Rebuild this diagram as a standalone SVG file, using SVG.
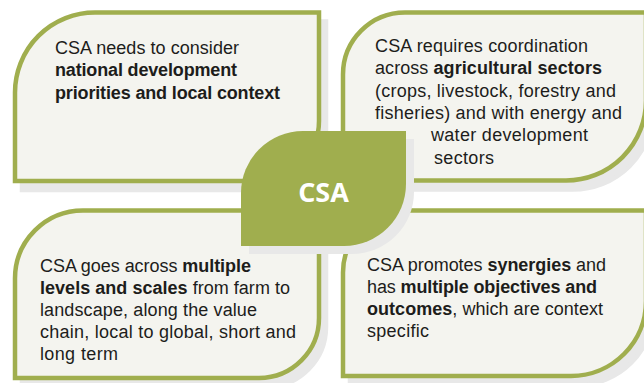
<svg xmlns="http://www.w3.org/2000/svg" xmlns:xlink="http://www.w3.org/1999/xlink" width="644" height="383" viewBox="0 0 644 383">
<style>
.box{fill:#f4f4ef;stroke:#a0ae4e;stroke-width:4.5}
.shadow{fill:#e8e8e8;stroke:#e8e8e8;stroke-width:4.5}
.leaf{fill:#a0ae4e}
.t{font-family:"Liberation Sans",Arial,sans-serif;font-size:18px;fill:#1d1d1b}
.b{font-weight:bold}
.csa{font-family:"Open Sans","Liberation Sans",sans-serif;font-weight:700;font-size:27px;fill:#ffffff;text-anchor:middle}
</style>
<defs>
<path id="p-tl" d="M15,92.5 A80,80 0 0 1 95,12.5 L319,12.5 L319,121 A60,60 0 0 1 259,181 L15,181 Z"/>
<path id="p-tr" d="M343,74.5 A62,62 0 0 1 405,12.5 L646,12.5 L646,100.5 A80,80 0 0 1 566,180.5 L343,180.5 Z"/>
<path id="p-bl" d="M15,278.5 A68,68 0 0 1 83,210.5 L319,210.5 L319,318 A60,60 0 0 1 259,378 L15,378 Z"/>
<path id="p-br" d="M343,272.5 A62,62 0 0 1 405,210.5 L646,210.5 L646,301 A75,75 0 0 1 571,376 L343,376 Z"/>
<path id="p-csa" d="M241,193 A62,62 0 0 1 303,131 L406,131 L406,184 A62,62 0 0 1 344,246 L241,246 Z"/>
</defs>
<g id="shadows">
<use xlink:href="#p-tl" class="shadow" transform="translate(7,9)"/>
<use xlink:href="#p-tr" class="shadow" transform="translate(7,9)"/>
<use xlink:href="#p-bl" class="shadow" transform="translate(7,9)"/>
<use xlink:href="#p-br" class="shadow" transform="translate(7,9)"/>
</g>
<g id="node-tl">
<use xlink:href="#p-tl" class="box"/>
<text class="t" x="55" y="54" textLength="184">CSA needs to consider</text>
<text class="t b" x="55" y="76.3" textLength="182">national development</text>
<text class="t b" x="55" y="98.6" textLength="225">priorities and local context</text>
</g>
<g id="node-tr">
<use xlink:href="#p-tr" class="box"/>
<text class="t" x="375" y="52" textLength="213">CSA requires coordination</text>
<text class="t" x="375" y="74.3" textLength="227">across <tspan class="b">agricultural sectors</tspan></text>
<text class="t" x="375" y="96.6" textLength="241">(crops, livestock, forestry and</text>
<text class="t" x="375" y="119" textLength="247">fisheries) and with energy and</text>
<text class="t" x="431" y="141.3" textLength="157">water development</text>
<text class="t" x="434" y="163.6" textLength="60">sectors</text>
</g>
<g id="node-bl">
<use xlink:href="#p-bl" class="box"/>
<text class="t" x="40" y="272" textLength="211">CSA goes across <tspan class="b">multiple</tspan></text>
<text class="t" x="40" y="294" textLength="250"><tspan class="b">levels and scales</tspan> from farm to</text>
<text class="t" x="40" y="316" textLength="217">landscape, along the value</text>
<text class="t" x="40" y="338" textLength="256">chain, local to global, short and</text>
<text class="t" x="40" y="360" textLength="78">long term</text>
</g>
<g id="node-br">
<use xlink:href="#p-br" class="box"/>
<text class="t" x="367" y="271" textLength="239">CSA promotes <tspan class="b">synergies</tspan> and</text>
<text class="t" x="367" y="293" textLength="230">has <tspan class="b">multiple objectives and</tspan></text>
<text class="t" x="367" y="315" textLength="236"><tspan class="b">outcomes</tspan>, which are context</text>
<text class="t" x="367" y="337" textLength="62">specific</text>
</g>
<g id="node-csa">
<use xlink:href="#p-csa" fill="#e8e8e8" transform="translate(8,8)"/>
<use xlink:href="#p-csa" class="leaf"/>
<text class="csa" x="323.5" y="201.7">CSA</text>
</g>
<g id="connectors"/>
</svg>
